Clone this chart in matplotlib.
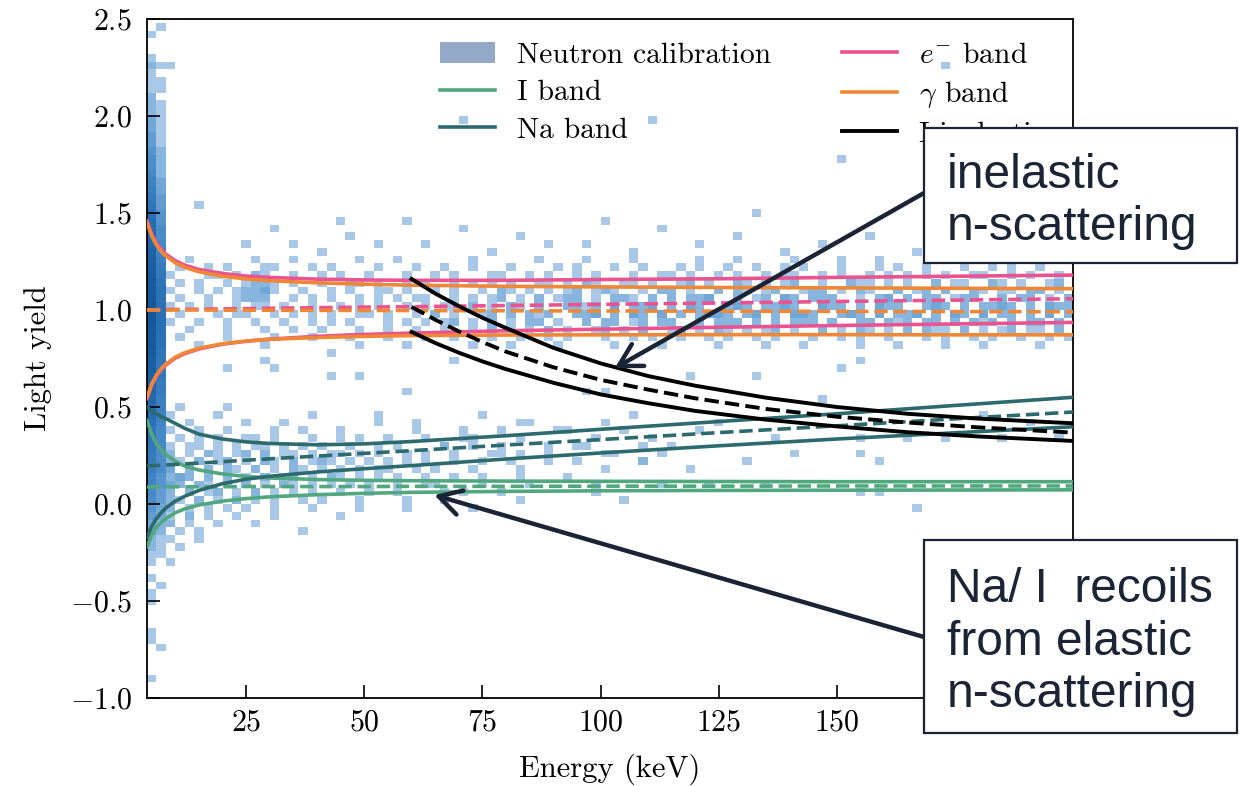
import numpy as np
import matplotlib
matplotlib.use("Agg")
import matplotlib.pyplot as plt
from matplotlib.colors import LogNorm, LinearSegmentedColormap
from matplotlib.patches import Patch, Rectangle
from matplotlib.lines import Line2D

plt.rcParams.update({
    "font.family": "serif",
    "font.serif": ["cmr10"],
    "mathtext.fontset": "cm",
    "axes.formatter.use_mathtext": True,
    "axes.unicode_minus": True,
})

# ---------------- band curves ----------------
band_E = [4, 5, 6, 7, 8, 10, 12, 15, 20, 25, 30, 40, 50, 60, 80, 100, 125, 150, 175, 200]

g_upper = [1.45, 1.381, 1.335, 1.302, 1.278, 1.243, 1.22, 1.197, 1.174, 1.16, 1.151, 1.14, 1.133,
           1.128, 1.122, 1.119, 1.116, 1.114, 1.112, 1.11]
g_mean = [1.0, 1.0, 1.0, 1.0, 1.0, 1.0, 1.0, 1.0, 0.999, 0.999, 0.999, 0.998, 0.998, 0.997,
          0.996, 0.995, 0.994, 0.993, 0.992, 0.991]
g_lower = [0.55, 0.619, 0.665, 0.698, 0.722, 0.757, 0.78, 0.803, 0.826, 0.84, 0.849, 0.858, 0.864,
           0.868, 0.871, 0.872, 0.873, 0.873, 0.872, 0.872]

e_upper = [1.459, 1.39, 1.345, 1.312, 1.288, 1.254, 1.231, 1.209, 1.188, 1.175, 1.168, 1.159, 1.155,
           1.153, 1.153, 1.157, 1.161, 1.168, 1.174, 1.18]
e_mean = [1.001, 1.001, 1.002, 1.002, 1.002, 1.003, 1.003, 1.004, 1.006, 1.007, 1.009, 1.012, 1.015,
          1.017, 1.023, 1.029, 1.036, 1.044, 1.051, 1.058]
e_lower = [0.543, 0.6125, 0.659, 0.692, 0.7165, 0.752, 0.7755, 0.799, 0.824, 0.839, 0.85, 0.8645, 0.874,
           0.881, 0.893, 0.901, 0.911, 0.92, 0.928, 0.936]

na_upper = [0.50, 0.48, 0.465, 0.45, 0.44, 0.415, 0.39, 0.36, 0.335, 0.32, 0.312, 0.305, 0.31,
            0.322, 0.352, 0.385, 0.425, 0.465, 0.508, 0.55]
na_mean = [0.196, 0.197, 0.199, 0.200, 0.201, 0.204, 0.207, 0.211, 0.218, 0.226, 0.233, 0.247, 0.261,
           0.275, 0.304, 0.332, 0.368, 0.403, 0.439, 0.474]
na_lower = [-0.17, -0.115, -0.075, -0.045, -0.02, 0.015, 0.04, 0.07, 0.105, 0.128, 0.143, 0.165, 0.182,
            0.198, 0.232, 0.263, 0.30, 0.335, 0.367, 0.398]

i_upper = [0.43, 0.36, 0.31, 0.28, 0.255, 0.22, 0.195, 0.175, 0.155, 0.142, 0.134, 0.126, 0.122,
           0.12, 0.118, 0.117, 0.116, 0.115, 0.115, 0.115]
i_mean = [0.088, 0.088, 0.088, 0.088, 0.088, 0.089, 0.089, 0.089, 0.089, 0.09, 0.09, 0.09, 0.09,
          0.091, 0.091, 0.092, 0.092, 0.093, 0.093, 0.093]
i_lower = [-0.22, -0.16, -0.12, -0.095, -0.075, -0.045, -0.025, -0.005, 0.015, 0.028, 0.037, 0.048,
           0.055, 0.06, 0.065, 0.068, 0.07, 0.071, 0.072, 0.073]

inel_E = [60, 65, 70, 75, 80, 90, 100, 110, 120, 135, 150, 165, 180, 200]
inel_upper = [1.16, 1.085, 1.02, 0.96, 0.907, 0.805, 0.725, 0.66, 0.61, 0.548, 0.50, 0.465, 0.44, 0.416]
inel_mean = [1.016, 0.95, 0.89, 0.835, 0.785, 0.705, 0.64, 0.59, 0.545, 0.49, 0.45, 0.42, 0.395, 0.368]
inel_lower = [0.887, 0.83, 0.78, 0.735, 0.695, 0.625, 0.565, 0.52, 0.48, 0.435, 0.40, 0.37, 0.348, 0.325]

x_ticks = [25, 50, 75, 100, 125, 150, 175]
x_tick_labels = ["$25$", "$50$", "$75$", "$100$", "$125$", "$150$", ""]  # 175 hidden by the box
y_ticks = [-1.0, -0.5, 0.0, 0.5, 1.0, 1.5, 2.0, 2.5]

# ---------------- neutron calibration histogram ----------------
# leftmost two energy columns (4-6 keV, 6-8 keV), counts per 0.04 light-yield bin from -1.0 upward
col_4_6 = [0, 0, 1, 0, 0, 0, 0, 1, 1, 0,
           0, 0, 1, 1, 0, 1, 0, 1, 1, 2,
           2, 3, 3, 4, 5, 6, 7, 8, 8, 9,
           10, 10, 11, 12, 12, 14, 15, 16, 18, 20,
           22, 24, 25, 26, 28, 30, 30, 30, 32, 32,
           32, 30, 30, 28, 26, 25, 24, 22, 20, 18,
           16, 15, 13, 12, 10, 9, 8, 7, 6, 6,
           5, 4, 4, 3, 3, 2, 2, 2, 1, 1,
           1, 2, 1, 0, 0, 1, 0, 0]
col_6_8 = [0, 0, 0, 0, 0, 0, 1, 0, 0, 0,
           0, 0, 0, 0, 1, 0, 0, 0, 1, 1,
           1, 2, 2, 3, 3, 4, 4, 5, 5, 6,
           6, 6, 7, 7, 7, 8, 8, 9, 9, 10,
           10, 11, 11, 12, 12, 13, 13, 14, 14, 14,
           14, 13, 13, 12, 11, 10, 9, 8, 7, 6,
           6, 5, 5, 4, 4, 3, 3, 2, 2, 2,
           2, 1, 1, 1, 1, 1, 1, 0, 1, 1,
           0, 1, 0, 0, 0, 0, 1, 0]

# electron-recoil band rows (2 keV columns from 8 keV), top row = 1.24-1.28, step -0.04
er_rows = [
    "..1......1...1......1...1.......1......1....1....1......1...1.....1....1...1......1..1..1.......",
    ".1..1.1...11...1.1....1...1..1..1...1....1.1...1..1...1.1..1..1..1.1...1...1.1..1...1..1.1..1..",
    "1...11.1.21..1..1.1..1...1..1.1...11..1.1..1.1...1..11.1..1.1..1.11..1.1..1.1.1.1.1..11..1.1..1.",
    ".1.1..1.1221.1..1..11.1..1.1..1.1.1.1..11.1.21..11.1..12.1..21.1.12..1..211.1.1..2.11..21.1..12.",
    "1..1.1.12231..1..1.1..11.1..1.1..1.21.1.1.12.121..1.22.1..2.21.12..122.1.21..2.12.2..21.11.22.1.",
    ".1..1..1222..1.1.1..1.1.1.11..1.1.12.1.2.122.1.221.2.2.223..2.12.32.222..1.23.2.22.122..2.22.1.2",
    "1.1.1..1.11.1..1..1.1.1..1.1.11.2.1.21.2..2212.3.223.2.32..232.2232..322.2.322..232.2.2232.2.322",
    ".1...1.11..1.1.1.1..11.1..1.2.1..12.2.212..223.2.32.3.2.2332.23.2.332..232.3.223.2.32.3.22.2.3.2",
    "1..1..1..1..1..1.1.1...1.1.1.12.1.2.1.22.1..2.22.12.22..2.222.2.2.222.2..22.212.22.2.212.2.22.2.",
    "..1...1...1..1..1...1..1..1..1..1.2.1.1.2.1..12.1.2..12.1.21.1.12.1..2.1.21.1.2.211.2.1.12.11.2.",
    ".1....1....1...1...1...1...1..1...1..1..1.1...1..1.1..1..1.1..1.1...1..1.1..1...1.1..1.1..1..1.1",
    "...1......1.........1....1......1...1....1.....1....1.....1....1...1.....1...1....1...1.....1...",
]
# nuclear-recoil region rows (2 keV columns from 8 keV), top row = 0.44-0.48, step -0.04
nr_rows = [
    "1....1.........1......1..........1...............1......",
    "..1.....1...1.........1...1..........1........1.........",
    "1..1..1....1..1...1.......1....1...1.....1......1.......1",
    ".1.1.1..11.1...1..1.1..1...1...1.....1.......1.....1....",
    "1.11.1.1.11.1.1.1..1..1.1....1..1..1....1..1......1.....",
    "2.1.21.12.2.11.1.11.1.1..1.1..1...1..1..1.....1.....1...",
    "21.2.12.1.21.2.121.1.1.1.1.1..1..1..1......1......1.....",
    "3.2.2.21.2.1.21.1.1.1.11..1.1...1....1........1.........",
    "232.2.2.1.2.12.1.21.1.1.1..1..1..1...1....1.............",
    "32.21.2.2.1.21.1.1.1.1..1...1....1....1......1......1...",
    "2.2.12.1.2.1.1.1..1..1..1....1.....1.........1..........",
    "21.2.1.2.1.1..1.1...1....1...1.......1..........1.......",
    "2.1.1.1.1..1...1....1...........1.......................",
    "1.2.1..1...1......1.....................................",
    "2.1..1...1..............................................",
    ".1.1..........1.........................................",
    "1..1....................................................",
    ".1......................................................",
    "........................................................",
    "1.......................................................",
]
# isolated single-count cells (energy keV, light yield)
stray_E = [8.5, 14.4, 71, 110, 150, 173.5,
           24, 30, 35, 40, 46, 52, 58, 63, 76, 82, 88, 97, 106, 113, 121, 128, 138, 146, 157, 166,
           177, 186, 194, 198, 44, 70, 100, 132, 170,
           11.4, 21, 21, 29, 31, 42.6, 42.6, 49.6, 59.5, 68, 97, 100, 118.6, 133, 151, 155,
           85, 93, 125.6, 147, 154, 164, 173, 180, 184, 141, 154, 159, 130, 119.5, 109, 89, 102,
           167.6, 154, 158, 59.5, 66, 72, 78, 96, 114, 136, 190, 196, 62, 70, 122, 135]
stray_LY = [2.26, 1.52, 1.96, 1.98, 1.78, 2.26,
            1.32, 1.40, 1.34, 1.30, 1.36, 1.32, 1.44, 1.34, 1.30, 1.38, 1.32, 1.34, 1.30, 1.40, 1.32,
            1.36, 1.30, 1.34, 1.38, 1.30, 1.34, 1.32, 1.38, 1.30, 1.46, 1.42, 1.44, 1.48, 1.44,
            0.51, 0.51, 0.69, 0.73, 0.69, 0.78, 0.65, 0.65, 0.60, 0.74, 0.60, 0.60, 0.65, 0.65, 0.69, 0.73,
            0.42, 0.38, 0.43, 0.55, 0.33, 0.33, 0.33, 0.47, 0.33, 0.24, 0.24, 0.20, 0.20, 0.175, 0.21,
            0.21, 0.26, -0.015, 0.08, 0.08, -0.015, 0.30, 0.34, 0.26, 0.30, 0.32, 0.36, 0.42, 0.36,
            0.10, 0.06, 0.10, 0.12]

# ---------------- styling ----------------
c_I = "#52a87e"
c_Na = "#2c6a6e"
c_e = "#ea5290"
c_g = "#f08737"
c_hist = "#94a8c8"
navy = "#1b2435"

W, H = 1239, 786
fig = plt.figure(figsize=(W / 100, H / 100), dpi=100)
ax = fig.add_axes([147 / W, 1 - 698 / H, (1073 - 147) / W, (698 - 19) / H])

# build histogram entries
hx, hy, hw = [], [], []
for Ec, col in ((5, col_4_6), (7, col_6_8)):
    for k, n in enumerate(col):
        if n:
            hx.append(Ec); hy.append(-1.0 + 0.04 * k + 0.02); hw.append(n)
for rows, top in ((er_rows, 1.24), (nr_rows, 0.44)):
    for r, row in enumerate(rows):
        ly = top - 0.04 * r + 0.02
        for c, ch in enumerate(row):
            if ch != ".":
                hx.append(9 + 2 * c); hy.append(ly); hw.append(int(ch))
for e, l in zip(stray_E, stray_LY):
    hx.append(e); hy.append(l); hw.append(1)

xedges = np.arange(0, 202, 2)
yedges = np.linspace(-1.0, 2.52, 89)
cmap = LinearSegmentedColormap.from_list(
    "nb", ["#a9c7e6", "#7eb0dc", "#4f8fca", "#2a72b5", "#14589a"])
ax.hist2d(hx, hy, bins=[xedges, yedges], weights=hw, cmap=cmap,
          norm=LogNorm(vmin=1, vmax=32), cmin=0.5, zorder=1)

lw = 2.6
lw_k = 2.8
def band(E, lo, mid, hi, color, width=lw):
    ax.plot(E, hi, color=color, lw=width, zorder=3)
    ax.plot(E, mid, color=color, lw=width, ls="--", zorder=3)
    ax.plot(E, lo, color=color, lw=width, zorder=3)

band(band_E, i_lower, i_mean, i_upper, c_I)
band(band_E, na_lower, na_mean, na_upper, c_Na)
band(band_E, e_lower, e_mean, e_upper, c_e)
band(band_E, g_lower, g_mean, g_upper, c_g)
band(inel_E, inel_lower, inel_mean, inel_upper, "black", width=lw_k)

ax.set_xlim(4, 200)
ax.set_ylim(-1.0, 2.5)
ax.set_xticks(x_ticks, x_tick_labels)
ax.set_yticks(y_ticks)
ax.yaxis.set_major_formatter(matplotlib.ticker.FormatStrFormatter("$%.1f$"))
ax.tick_params(direction="in", length=9.5, width=1.2, labelsize=21.5)
ax.tick_params(axis="y", pad=11)
ax.tick_params(axis="x", pad=8)
for s in ax.spines.values():
    s.set_linewidth(1.3)
ax.set_xlabel("Energy (keV)", fontsize=22, labelpad=12)
ax.set_ylabel("Light yield", fontsize=22, labelpad=13)

handles = [Patch(facecolor=c_hist, edgecolor="none"),
           Line2D([], [], color=c_I, lw=lw),
           Line2D([], [], color=c_Na, lw=lw),
           Line2D([], [], color=c_e, lw=lw),
           Line2D([], [], color=c_g, lw=lw),
           Line2D([], [], color="black", lw=lw_k)]
labels = ["Neutron calibration", "I band", "Na band",
          "$e^{-}$ band", r"$\gamma$ band", "I inelastic"]
ax.legend(handles, labels, loc="upper left", bbox_to_anchor=(0.316, 0.966), ncol=2,
          frameon=False, fontsize=21.3, handlelength=1.86, handletextpad=0.74,
          columnspacing=2.4, labelspacing=0.36, borderpad=0, borderaxespad=0)

# ---------------- annotations ----------------
inel_arrow_tip = (103, 0.70)
nr_arrow_tip = (64.8, 0.046)

def fx(px):
    return px / W

def fy(py):
    return 1 - py / H

arrow = dict(arrowstyle="->,head_length=0.8,head_width=0.45", lw=3.2, color=navy,
             shrinkA=0, shrinkB=0, mutation_scale=20)
ax.annotate("", xy=inel_arrow_tip, xycoords="data", xytext=(fx(924), fy(193)),
            textcoords="figure fraction", arrowprops=arrow, annotation_clip=False, zorder=8)
ax.annotate("", xy=nr_arrow_tip, xycoords="data", xytext=(fx(924), fy(637)),
            textcoords="figure fraction", arrowprops=arrow, annotation_clip=False, zorder=8)

for (x0, y0, x1, y1) in ((924, 128, 1237, 263), (924, 540, 1237, 733)):
    fig.add_artist(Rectangle((fx(x0), fy(y1)), fx(x1) - fx(x0), fy(y0) - fy(y1),
                             transform=fig.transFigure, facecolor="white",
                             edgecolor=navy, lw=1.6, zorder=9))

fig.text(fx(947), fy(240), "inelastic\nn-scattering", fontsize=34.5, family="Liberation Sans",
         color=navy, va="baseline", ha="left", linespacing=1.21, zorder=10)
fig.text(fx(947), fy(707), "Na/ I  recoils\nfrom elastic\nn-scattering", fontsize=34.5,
         family="Liberation Sans", color=navy, va="baseline", ha="left", linespacing=1.21, zorder=10)

fig.savefig("out.png", dpi=100)
